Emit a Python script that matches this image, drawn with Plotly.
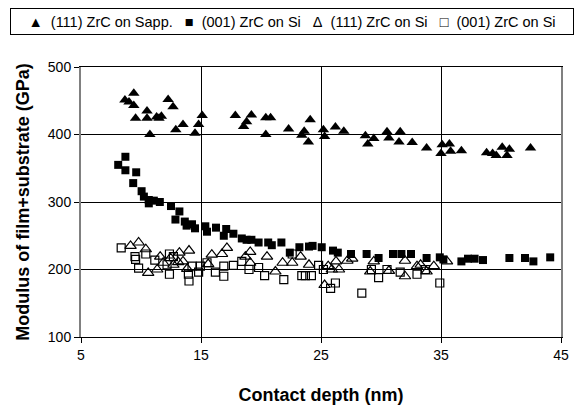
import plotly.graph_objects as go

# (111) ZrC on Sapphire - filled triangles
sapp111_x = [8.66, 9.4, 9.0, 9.4, 9.55, 10.5, 10.5, 10.74, 11.3, 11.7, 11.5, 12.26, 12.67, 12.9,
             13.5, 14.5, 14.8, 15.1, 17.86, 18.55, 18.8, 19.2, 20.4, 20.8, 20.4, 22.3, 23.4,
             23.6, 23.95, 24.1, 25.2, 25.3, 26.2, 26.9, 28.7, 28.9, 29.4, 30.5, 30.66, 31.6,
             31.5, 32.6, 33.8, 35.0, 35.1, 35.7, 35.8, 36.7, 38.8, 39.3, 39.6, 40.1, 40.5,
             40.7, 42.46]
sapp111_y = [451, 461, 448, 443, 424, 435, 424, 400, 426, 427, 424, 452, 441, 407,
             415, 402, 415, 428, 428, 412, 419, 429, 425, 425, 400, 408, 399,
             405, 389, 422, 407, 397, 411, 405, 398, 386, 394, 404, 395, 404,
             389, 388, 380, 372, 385, 386, 375, 376, 373, 372, 369, 381, 369,
             378, 380]

# (001) ZrC on Si - filled squares
si001_x = [8.7, 8.1, 8.7, 9.6, 9.35, 10.05, 10.24, 10.65, 10.65, 11.07, 11.57, 12.5, 13.2, 12.87,
           13.65, 13.8, 14.25, 14.5, 15.36, 15.5, 16.25, 16.9, 17.1, 17.7, 18.4, 18.8, 19.2,
           19.8, 20.6, 20.9, 21.7, 22.4, 23.2, 24.0, 24.3, 25.06, 26.0, 26.4, 27.5, 28.8,
           29.8, 31.0, 31.7, 32.5, 33.8, 34.9, 35.2, 36.7, 37.25, 37.8, 38.5, 40.7, 42.0,
           42.7, 44.1]
si001_y = [367, 355, 347, 344, 328, 316, 308, 303, 298, 302, 300, 294, 286, 274,
           271, 265, 267, 261, 264, 256, 262, 250, 260, 253, 246, 244, 244,
           240, 240, 236, 240, 225, 233, 234, 235, 233, 228, 225, 223, 223,
           217, 223, 223, 223, 217, 218, 215, 212, 216, 216, 214, 217, 217,
           212, 218]

# (111) ZrC on Si - open triangles
si111_x = [9.13, 9.8, 10.4, 10.6, 11.35, 11.6, 11.85, 12.45, 12.7, 13.2, 13.5, 14.0, 13.1, 13.85,
           15.6, 15.9, 16.75, 17.16, 18.7, 19.1, 19.1, 20.5, 21.2, 21.8, 22.6, 23.3, 24.0,
           25.3, 25.6, 25.9, 26.25, 26.5, 27.2, 27.6, 29.1, 29.4, 30.66, 32.0, 32.0, 33.0,
           33.3, 33.8, 34.4, 35.5]
si111_y = [235, 240, 230, 195, 200, 219, 210, 217, 207, 225, 212, 228, 211, 201,
           208, 222, 223, 232, 219, 226, 210, 219, 197, 210, 210, 219, 207,
           177, 205, 200, 212, 200, 213, 216, 197, 212, 198, 190, 213, 205,
           207, 197, 205, 212]

# (001) ZrC on Si - open squares
si001o_x = [8.35, 9.5, 9.55, 9.8, 10.4, 11.15, 12.17, 12.37, 12.37, 12.7, 14.0, 13.95, 14.25, 14.8,
            14.95, 15.5, 16.2, 16.9, 16.9, 17.7, 18.4, 19.0, 19.8, 20.3, 21.9, 22.6, 23.4,
            24.2, 23.7, 24.8, 25.2, 25.8, 26.2, 28.4, 29.2, 29.8, 30.5, 31.6, 33.0, 33.7, 34.9]
si001o_y = [232, 219, 215, 202, 223, 214, 207, 223, 193, 219, 183, 193, 205, 196,
            205, 210, 196, 205, 190, 206, 212, 200, 203, 191, 185, 223, 191,
            191, 191, 206, 200, 172, 180, 165, 200, 188, 200, 196, 193, 200, 180]

names = ["(111) ZrC on Sapp.", "(001) ZrC on Si", "(111) ZrC on Si", "(001) ZrC on Si"]
legend_symbols = ["\u25B2", "\u25A0", "\u0394", "\u25A1"]

FONT = "Arial, Liberation Sans, sans-serif"

fig = go.Figure()
fig.add_trace(go.Scatter(x=sapp111_x, y=sapp111_y, mode="markers", name=names[0],
                         marker=dict(symbol="triangle-up", size=10, color="black")))
fig.add_trace(go.Scatter(x=si001_x, y=si001_y, mode="markers", name=names[1],
                         marker=dict(symbol="square", size=8, color="black")))
fig.add_trace(go.Scatter(x=si111_x, y=si111_y, mode="markers", name=names[2],
                         marker=dict(symbol="triangle-up-open", size=10, color="black",
                                     line=dict(width=1.2, color="black"))))
fig.add_trace(go.Scatter(x=si001o_x, y=si001o_y, mode="markers", name=names[3],
                         marker=dict(symbol="square-open", size=8, color="black",
                                     line=dict(width=1.2, color="black"))))

legend_text = "&nbsp;&nbsp;&nbsp;".join(f"{s}&nbsp;&nbsp;{n}" for s, n in zip(legend_symbols, names))

fig.add_annotation(
    text=legend_text, xref="paper", yref="paper", x=-0.147, y=1.22,
    xanchor="left", yanchor="top", showarrow=False, align="center",
    width=556, height=19,
    font=dict(family=FONT, size=14.5, color="black"),
    bordercolor="black", borderwidth=1, borderpad=3, bgcolor="white",
)

fig.update_layout(
    width=581, height=413,
    margin=dict(l=81, r=18, t=67, b=72),
    paper_bgcolor="white", plot_bgcolor="white",
    font=dict(family=FONT, size=14, color="black"),
    showlegend=False,
    xaxis=dict(range=[5, 45], tick0=5, dtick=10, showgrid=True, gridcolor="black", gridwidth=1,
               showline=True, linecolor="black", linewidth=1, mirror=True,
               ticks="outside", ticklen=5, tickcolor="black", zeroline=False,
               tickfont=dict(size=14),
               title=dict(text="<b>Contact depth (nm)</b>", font=dict(size=18), standoff=26)),
    yaxis=dict(range=[100, 500], tick0=100, dtick=100, showgrid=True, gridcolor="black", gridwidth=1,
               showline=True, linecolor="#808080", linewidth=2, mirror=True,
               ticks="outside", ticklen=5, tickcolor="black", zeroline=False,
               tickfont=dict(size=14),
               title=dict(text="<b>Modulus of film+substrate (GPa)</b>", font=dict(size=18), standoff=14)),
)

fig.write_html("out.html", config={"displayModeBar": False},
               post_script="document.body.style.margin='0';")
